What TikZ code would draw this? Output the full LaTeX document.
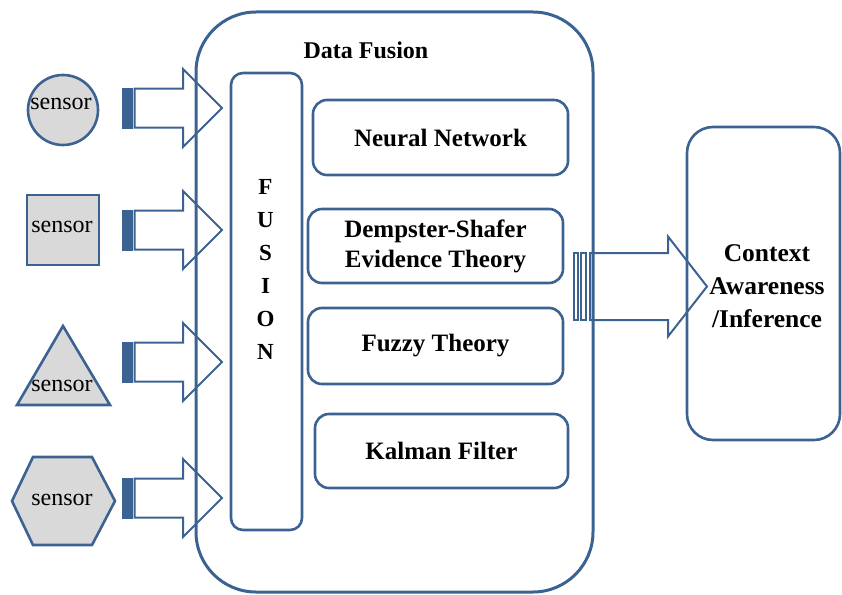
\documentclass[tikz,border=0pt]{standalone}
\usepackage{fontspec}
\setmainfont{Liberation Serif}
\definecolor{frame}{RGB}{60,98,146}
\definecolor{sensorfill}{RGB}{217,217,217}

\tikzset{
  outerbox/.style={draw=frame, line width=3pt, rounded corners=60pt, inner sep=0pt},
  fusionbox/.style={draw=frame, line width=2.6pt, rounded corners=12pt, inner sep=0pt},
  methodbox/.style={draw=frame, line width=2.6pt, rounded corners=14pt, inner sep=0pt,
    align=center, font=\bfseries\fontsize{25}{31}\selectfont},
  resultbox/.style={draw=frame, line width=2.6pt, rounded corners=26pt, inner sep=0pt,
    align=center, font=\bfseries\fontsize{25.5}{33}\selectfont},
  sensorshape/.style={draw=frame, fill=sensorfill, line width=2.6pt, line join=miter},
  sensorlabel/.style={font=\fontsize{24}{28}\selectfont, inner sep=0pt},
  arrowline/.style={draw=frame, line width=2pt, line join=miter},
  % striped block arrow from a sensor into the fusion stage
  pics/inarrow/.style={code={
    \filldraw[arrowline, fill=frame] (0,-19.5) rectangle (4.5,19.5);
    \draw[arrowline] (7,-19.5) rectangle (9,19.5);
    \draw[arrowline] (11.5,-19.5) -- (60,-19.5) -- (60,-39) -- (99,0)
      -- (60,39) -- (60,19.5) -- (11.5,19.5) -- cycle;
  }},
  % wide striped block arrow towards the inference stage
  pics/outarrow/.style={code={
    \draw[arrowline] (0,-33.5) rectangle (4,33.5);
    \draw[arrowline] (7,-33.5) rectangle (12,33.5);
    \draw[arrowline] (16,-33.5) -- (94,-33.5) -- (94,-50) -- (133,0)
      -- (94,50) -- (94,33.5) -- (16,33.5) -- cycle;
  }}
}

\begin{document}
\begin{tikzpicture}[x=1pt, y=-1pt]
\useasboundingbox (0,0) rectangle (842,594);

% data fusion container
\node[outerbox, minimum width=397pt, minimum height=580pt] (df) at (394.5,302) {};
\node[font=\bfseries\fontsize{24}{28}\selectfont, inner sep=0pt] (dftitle) at (366,50) {Data Fusion};

% fusion column
\node[fusionbox, minimum width=71pt, minimum height=457pt] (fus) at (266.5,301.5) {};
\node[font=\bfseries\fontsize{23}{33}\selectfont, align=center, inner sep=0pt]
  (fustext) at (265.5,269) {F\\U\\S\\I\\O\\N};

% fusion methods
\node[methodbox, minimum width=255pt, minimum height=75pt] (nn) at (440.5,137.5) {Neural Network};
\node[methodbox, minimum width=255pt, minimum height=74pt] (ds) at (435.5,246)
  {Dempster-Shafer\\[-1pt]Evidence Theory};
\node[methodbox, minimum width=255pt, minimum height=76pt] (fz) at (435.5,346) {Fuzzy Theory};
\node[methodbox, minimum width=253pt, minimum height=74pt] (kf) at (441.5,451) {Kalman Filter};

% inference stage
\node[resultbox, minimum width=153pt, minimum height=313pt] (ctx) at (763.5,283.5) {};
\node[font=\bfseries\fontsize{25.5}{33}\selectfont, align=center, inner sep=0pt]
  (ctxtext) at (767,286) {Context\\Awareness\\/Inference};

% sensors
\draw[sensorshape] (63,110) circle[radius=35];
\node[sensorlabel] (s1) at (61,104) {sensor};

\draw[sensorshape] (27,195) rectangle (99,265);
\node[sensorlabel] (s2) at (62,227) {sensor};

\draw[sensorshape] (63,326) -- (110,405) -- (17,405) -- cycle;
\node[sensorlabel] (s3) at (62,386) {sensor};

\draw[sensorshape] (12,501) -- (33,457) -- (92,457) -- (115,501) -- (92,545) -- (33,545) -- cycle;
\node[sensorlabel] (s4) at (62,500) {sensor};

% arrows into the fusion stage
\coordinate (t1) at (123,108);
\coordinate (t2) at (123,230);
\coordinate (t3) at (123,362);
\coordinate (t4) at (123,498);
\pic at (t1) {inarrow};
\pic at (t2) {inarrow};
\pic at (t3) {inarrow};
\pic at (t4) {inarrow};

% arrow to the inference stage
\coordinate (t5) at (574,286.5);
\pic at (t5) {outarrow};
\end{tikzpicture}
\end{document}
